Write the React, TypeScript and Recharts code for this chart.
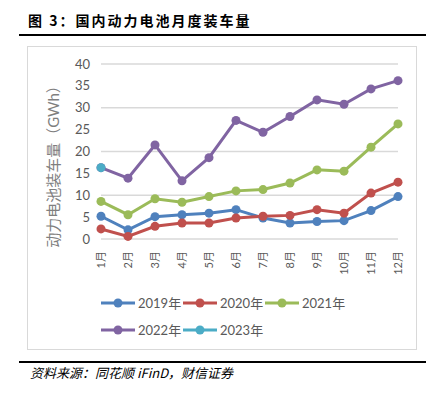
import React from 'react';
import { LineChart, Line, XAxis, YAxis, CartesianGrid } from 'recharts';

const months = ['1月', '2月', '3月', '4月', '5月', '6月', '7月', '8月', '9月', '10月', '11月', '12月'];
const sales2019 = [5.2, 2.1, 5.1, 5.55, 5.9, 6.7, 4.8, 3.65, 4.0, 4.2, 6.5, 9.7];
const sales2020 = [2.3, 0.6, 2.9, 3.65, 3.65, 4.8, 5.2, 5.4, 6.7, 5.9, 10.5, 13.0];
const sales2021 = [8.6, 5.55, 9.2, 8.4, 9.7, 11.0, 11.3, 12.8, 15.8, 15.5, 21.0, 26.3];
const sales2022 = [16.3, 13.9, 21.5, 13.3, 18.6, 27.1, 24.4, 28.0, 31.8, 30.8, 34.3, 36.2];
const sales2023 = [16.3];
const yTicks = [0, 5, 10, 15, 20, 25, 30, 35, 40];

const series = [
    { key: 'y2019', name: '2019年', color: '#4F81BD', values: sales2019 },
    { key: 'y2020', name: '2020年', color: '#C0504D', values: sales2020 },
    { key: 'y2021', name: '2021年', color: '#9BBB59', values: sales2021 },
    { key: 'y2022', name: '2022年', color: '#8064A2', values: sales2022 },
    { key: 'y2023', name: '2023年', color: '#4BACC6', values: sales2023 },
];

const data = months.map((month, i) => {
    const row: Record<string, string | number | null> = { month };
    series.forEach((s) => {
        row[s.key] = i < s.values.length ? s.values[i] : null;
    });
    return row;
});

const font = 'Lato, "Noto Sans CJK SC", sans-serif';

const MonthTick = (props: any) => {
    const { x, y, payload } = props;
    return (
        <g transform={`translate(${x},${y + 4})`}>
            <text textAnchor="end" transform="rotate(-90)" dy="0.35em" fontSize={11} fill="#595959" fontFamily={font}>
                {payload.value}
            </text>
        </g>
    );
};

const App: React.FC = () => {
    return (
        <div style={{ position: 'absolute', left: 0, top: 0, width: 440, height: 396, background: '#fff', fontFamily: font }}>
            <div
                style={{
                    position: 'absolute',
                    left: 28,
                    top: 10,
                    fontSize: 14,
                    fontWeight: 700,
                    letterSpacing: 2,
                    fontFamily: '"Noto Sans CJK SC", sans-serif',
                    color: '#000',
                    whiteSpace: 'nowrap',
                }}
            >
                图 3：国内动力电池月度装车量
            </div>
            <div style={{ position: 'absolute', left: 19, top: 34, width: 407, height: 1.5, background: '#000' }} />
            <div
                style={{
                    position: 'absolute',
                    left: 27,
                    top: 46,
                    width: 390,
                    height: 304,
                    border: '1px solid #d9d9d9',
                    boxSizing: 'border-box',
                }}
            />
            <div style={{ position: 'absolute', left: 27, top: 46 }}>
                <LineChart width={390} height={304} data={data} margin={{ top: 18, right: 19, left: 0, bottom: 71 }}>
                    <CartesianGrid vertical={false} stroke="#d9d9d9" strokeWidth={1.3} />
                    <XAxis
                        dataKey="month"
                        axisLine={false}
                        tickLine={false}
                        interval={0}
                        height={40}
                        tick={<MonthTick />}
                    />
                    <YAxis
                        width={74}
                        domain={[0, 40]}
                        ticks={yTicks}
                        axisLine={false}
                        tickLine={false}
                        tickMargin={5}
                        tick={{ fontSize: 13, fill: '#595959', fontFamily: font }}
                    />
                    {series.map((s) => (
                        <Line
                            key={s.key}
                            dataKey={s.key}
                            name={s.name}
                            stroke={s.color}
                            strokeWidth={3}
                            dot={{ r: 4.5, fill: s.color, stroke: s.color, strokeWidth: 0 }}
                            isAnimationActive={false}
                        />
                    ))}
                </LineChart>
            </div>
            <div
                style={{
                    position: 'absolute',
                    left: 52,
                    top: 163,
                    transform: 'translate(-50%, -50%) rotate(-90deg)',
                    fontSize: 15,
                    color: '#7f7f7f',
                    whiteSpace: 'nowrap',
                }}
            >
                动力电池装车量（GWh）
            </div>
            <div style={{ position: 'absolute', left: 101, top: 289, width: 250, display: 'flex', flexWrap: 'wrap' }}>
                {series.map((s) => (
                    <div key={s.key} style={{ width: 82, height: 27, display: 'flex', alignItems: 'center' }}>
                        <svg width={34} height={10}>
                            <line x1={0} y1={5} x2={34} y2={5} stroke={s.color} strokeWidth={3} />
                            <circle cx={17} cy={5} r={4.5} fill={s.color} />
                        </svg>
                        <span style={{ marginLeft: 3, fontSize: 13, color: '#595959', whiteSpace: 'nowrap' }}>{s.name}</span>
                    </div>
                ))}
            </div>
            <div style={{ position: 'absolute', left: 19, top: 361, width: 407, height: 1.5, background: '#000' }} />
            <div
                style={{
                    position: 'absolute',
                    left: 30,
                    top: 365,
                    fontSize: 13,
                    fontStyle: 'italic',
                    fontFamily: '"Noto Sans CJK SC", sans-serif',
                    color: '#000',
                    whiteSpace: 'nowrap',
                    lineHeight: '16px',
                }}
            >
                资料来源：同花顺 iFinD，财信证券
            </div>
        </div>
    );
};

export default App;
